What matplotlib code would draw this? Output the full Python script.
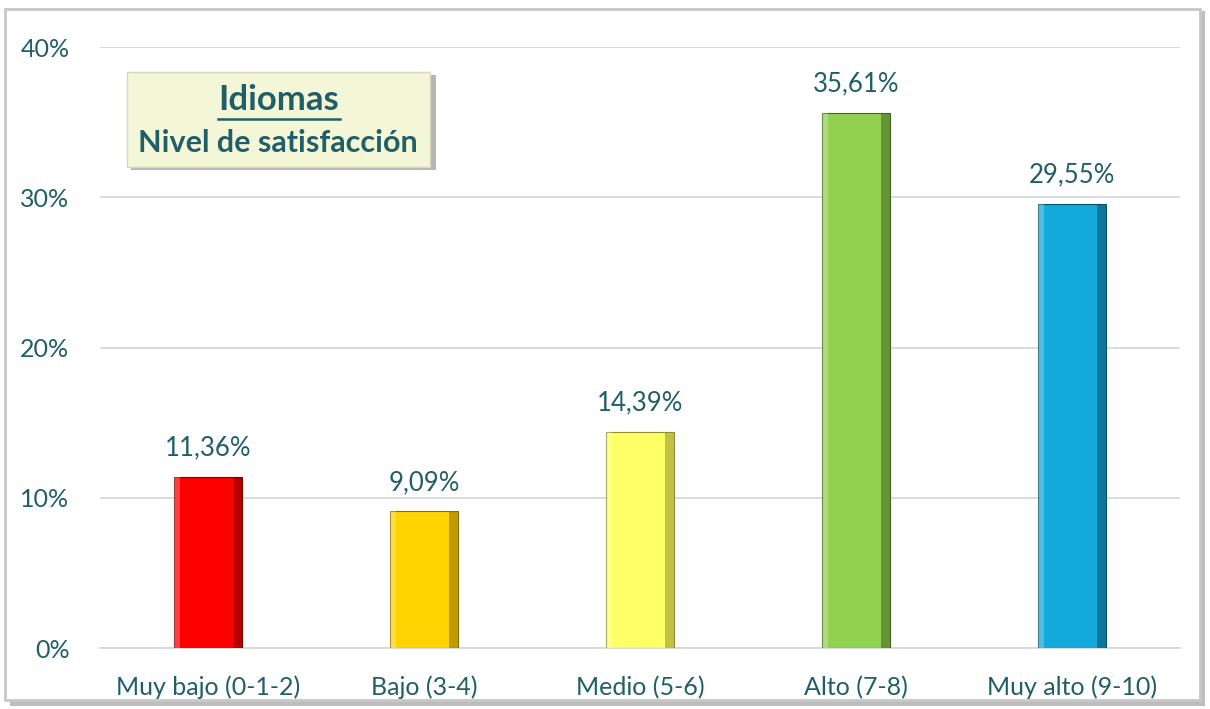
import matplotlib.pyplot as plt
from matplotlib.patches import Rectangle

categorias = ['Muy bajo (0-1-2)', 'Bajo (3-4)', 'Medio (5-6)', 'Alto (7-8)', 'Muy alto (9-10)']
valores = [11.36, 9.09, 14.39, 35.61, 29.55]
etiquetas = ['11,36%', '9,09%', '14,39%', '35,61%', '29,55%']
colores = ['#FF0000', '#FFD400', '#FFFF66', '#92D050', '#12A9DB']
sombras = ['#7A0000', '#8A6E00', '#8F8F30', '#3F6320', '#0A4F66']
yticks = [0, 10, 20, 30, 40]
ylabels = ['0%', '10%', '20%', '30%', '40%']

texto = '#215F68'
plt.rcParams['font.family'] = ['Lato', 'DejaVu Sans']

fig = plt.figure(figsize=(12.1, 7.09), dpi=100)

# marco exterior con sombra
fig.patches.append(Rectangle((0.008, 0.004), 0.988, 0.98, transform=fig.transFigure,
                             facecolor='#BDBDBD', edgecolor='none', zorder=0))
fig.patches.append(Rectangle((0.004, 0.012), 0.988, 0.976, transform=fig.transFigure,
                             facecolor='white', edgecolor='#C8C8C8', linewidth=2, zorder=1))

ax = fig.add_axes([0.0826, 0.086, 0.8926, 0.8477])
ax.set_zorder(2)
ax.set_facecolor('none')
x = range(len(categorias))
w = 0.315
ax.bar(x, valores, width=w, color=colores, edgecolor=sombras, linewidth=0.8, zorder=3)
# bisel oscuro a la derecha
ax.bar([i + w / 2 - 0.02 for i in x], valores, width=0.04, color=sombras, alpha=0.55,
       linewidth=0, zorder=4)
# brillo a la izquierda
ax.bar([i - w / 2 + 0.015 for i in x], valores, width=0.03, color='white', alpha=0.25,
       linewidth=0, zorder=4)

for i, (v, t) in enumerate(zip(valores, etiquetas)):
    ax.text(i, v + 1.1, t, ha='center', va='bottom', fontsize=18.5, color=texto)

ax.set_xlim(-0.5, len(categorias) - 0.5)
ax.set_ylim(0, 40)
ax.set_yticks(yticks)
ax.set_yticklabels(ylabels)
ax.set_xticks(list(x))
ax.set_xticklabels(categorias)
ax.tick_params(axis='both', length=0, labelsize=18, labelcolor=texto)
ax.tick_params(axis='y', pad=22)
ax.tick_params(axis='x', pad=20)
ax.grid(axis='y', color='#D9D9D9', linewidth=1.3, zorder=0)
for s in ['top', 'right', 'left']:
    ax.spines[s].set_visible(False)
ax.spines['bottom'].set_color('#D9D9D9')
ax.spines['bottom'].set_linewidth(1.3)

# cuadro del título
fig.patches.append(Rectangle((0.108, 0.760), 0.252, 0.134, transform=fig.transFigure,
                             facecolor='#B5B5B5', edgecolor='none', zorder=5))
fig.patches.append(Rectangle((0.105, 0.765), 0.250, 0.134, transform=fig.transFigure,
                             facecolor='#F4F6D8', edgecolor='#D8D8C0', linewidth=1, zorder=6))
fig.text(0.230, 0.859, 'Idiomas', ha='center', va='center', fontsize=25,
         fontweight='bold', color=texto, zorder=7)
fig.add_artist(plt.Line2D([0.180, 0.281], [0.832, 0.832], transform=fig.transFigure,
                          color=texto, linewidth=1.8, zorder=7))
fig.text(0.230, 0.799, 'Nivel de satisfacción', ha='center', va='center', fontsize=22,
         fontweight='bold', color=texto, zorder=7)

fig.savefig('out.png', dpi=100)
